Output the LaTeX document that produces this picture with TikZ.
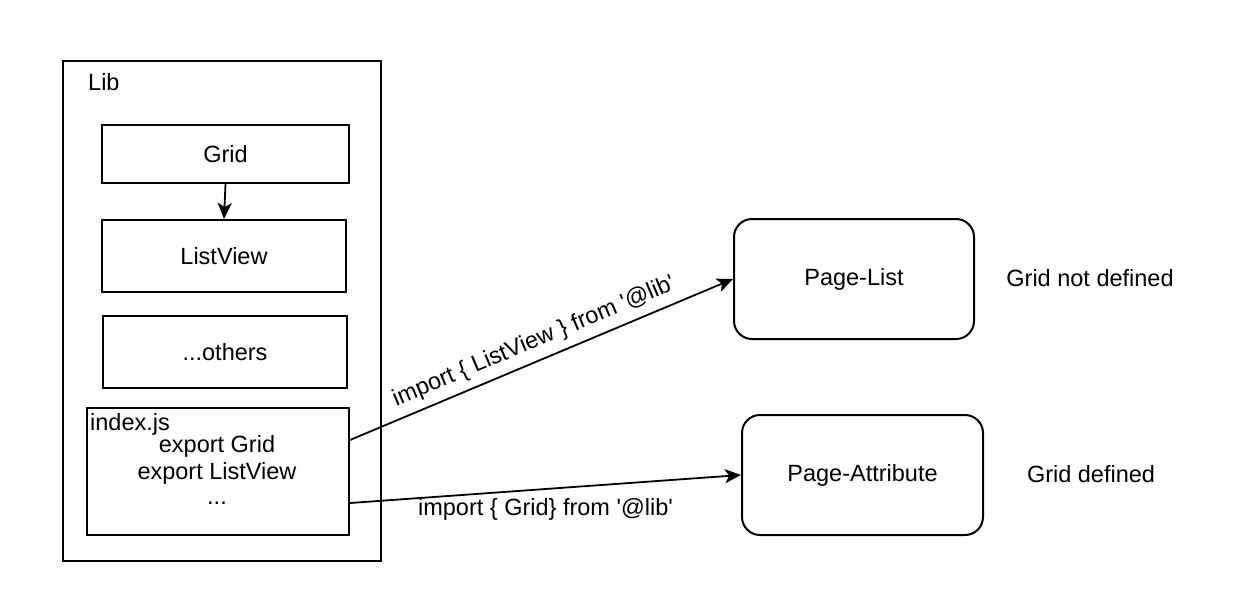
\documentclass[tikz,border=0pt]{standalone}
\usepackage{fontspec}
\setmainfont{Liberation Sans}
\usetikzlibrary{arrows.meta}
\tikzset{
  every node/.style={font=\fontsize{23.5}{28}\selectfont},
  box/.style={draw, line width=2pt, inner sep=0pt},
  rbox/.style={draw, line width=2pt, inner sep=0pt, rounded corners=18pt},
  plain/.style={inner sep=0pt},
  arr/.style={line width=1.8pt, -{Stealth[length=16pt,width=14pt,inset=4pt]}}
}
\begin{document}
\begin{tikzpicture}[x=1pt,y=-1pt]
\useasboundingbox[fill=white] (0,0) rectangle (1260,590);
% outer library container
\node[box, minimum width=318pt, minimum height=500pt] (lib) at (222,311) {};
\node[plain, anchor=west] (libl) at (88,82) {Lib};
% inner boxes
\node[box, minimum width=247pt, minimum height=58pt] (grid) at (225.5,154) {Grid};
\node[box, minimum width=244pt, minimum height=72pt] (lv) at (224,256) {ListView};
\node[box, minimum width=244pt, minimum height=72pt] (oth) at (225,352) {...others};
\node[box, minimum width=262pt, minimum height=127pt] (idx) at (218,471.5) {};
\node[plain, anchor=west] (idxl) at (90,424) {index.js};
\node[plain] (e1) at (217,446) {export Grid};
\node[plain] (e2) at (217,473) {export ListView};
\node[plain] (e3) at (217,503) {...};
% pages
\node[rbox, minimum width=240pt, minimum height=120pt] (plist) at (854,279) {Page-List};
\node[rbox, minimum width=241pt, minimum height=120pt] (pattr) at (862.5,475) {Page-Attribute};
\node[plain] (n1) at (1090,278) {Grid not defined};
\node[plain] (n2) at (1091,474) {Grid defined};
% connectors
\draw[arr] (grid.south) -- (lv.north);
\draw[arr] ([yshift=31.5pt]idx.east) -- node[sloped, above=4pt] (l1) {import \{ ListView \} from \textquotesingle @lib\textquotesingle} (plist.west);
\draw[arr] ([yshift=-31.5pt]idx.east) -- node[below=5pt] (l2) {import \{ Grid\} from \textquotesingle @lib\textquotesingle} (pattr.west);
\end{tikzpicture}
\end{document}
